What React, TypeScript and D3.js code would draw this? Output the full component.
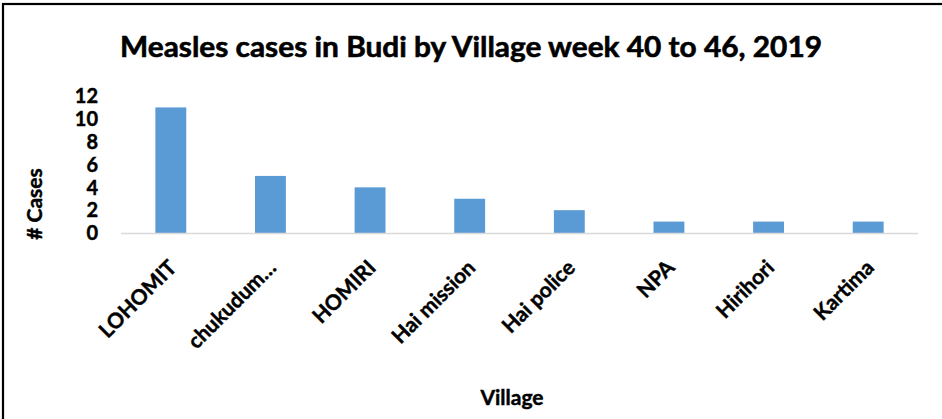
import React from "react";
import * as d3 from "d3";

const categories = ["LOHOMIT", "chukudum…", "HOMIRI", "Hai mission", "Hai police", "NPA", "Hirihori", "Kartima"];
const cases = [11, 5, 4, 3, 2, 1, 1, 1];
const yTicks = [0, 2, 4, 6, 8, 10, 12];
const titleText = "Measles cases in Budi by Village week 40 to 46, 2019";
const xTitle = "Village";
const yTitle = "# Cases";

const W = 942;
const H = 419;
const plot = { left: 121, right: 918, top: 96, bottom: 233 };
const FONT = "Lato, 'Open Sans', sans-serif";

export default function App() {
  const x = d3
    .scaleBand<string>()
    .domain(categories)
    .range([plot.left, plot.right])
    .paddingInner(0.69)
    .paddingOuter(0.345);
  const y = d3.scaleLinear().domain([0, 12]).range([plot.bottom, plot.top]);
  const step = (plot.right - plot.left) / categories.length;
  const center = (c: string) => plot.left + step * (categories.indexOf(c) + 0.5);
  const bold = { fontWeight: 700, fill: "#000", stroke: "#000", strokeWidth: 0.45 } as const;

  return (
    <svg
      width={W}
      height={H}
      style={{ position: "absolute", left: 0, top: 0, background: "#fff" }}
      fontFamily={FONT}
    >
      <rect x={0} y={0} width={W} height={H} fill="#fff" />
      <rect x={3} y={4} width={W + 20} height={H + 20} fill="none" stroke="#000" strokeWidth={2.2} />
      <text
        x={471}
        y={57}
        textAnchor="middle"
        fontSize={29}
        {...bold}
        strokeWidth={0.6}
        textLength={702}
        lengthAdjust="spacingAndGlyphs"
      >
        {titleText}
      </text>
      {yTicks.map((t) => (
        <text key={t} x={98} y={y(t)} dy="0.36em" textAnchor="end" fontSize={20} {...bold}>
          {t}
        </text>
      ))}
      {categories.map((c, i) => (
        <rect
          key={c}
          x={center(c) - x.bandwidth() / 2}
          y={y(cases[i])}
          width={x.bandwidth()}
          height={y(0) - y(cases[i])}
          fill="#5b9bd5"
        />
      ))}
      <line
        x1={plot.left}
        x2={plot.right}
        y1={plot.bottom + 0.5}
        y2={plot.bottom + 0.5}
        stroke="#d9d9d9"
        strokeWidth={1.5}
      />
      {categories.map((c) => {
        const ax = center(c) + 7;
        const ay = plot.bottom + 36;
        return (
          <text
            key={c}
            x={ax}
            y={ay}
            textAnchor="end"
            fontSize={21}
            {...bold}
            transform={`rotate(-45, ${ax}, ${ay})`}
          >
            {c}
          </text>
        );
      })}
      <text x={512} y={405} textAnchor="middle" fontSize={21} {...bold}>
        {xTitle}
      </text>
      <text
        x={0}
        y={0}
        textAnchor="middle"
        fontSize={21}
        {...bold}
        transform={`translate(42, 204) rotate(-90)`}
      >
        {yTitle}
      </text>
    </svg>
  );
}
